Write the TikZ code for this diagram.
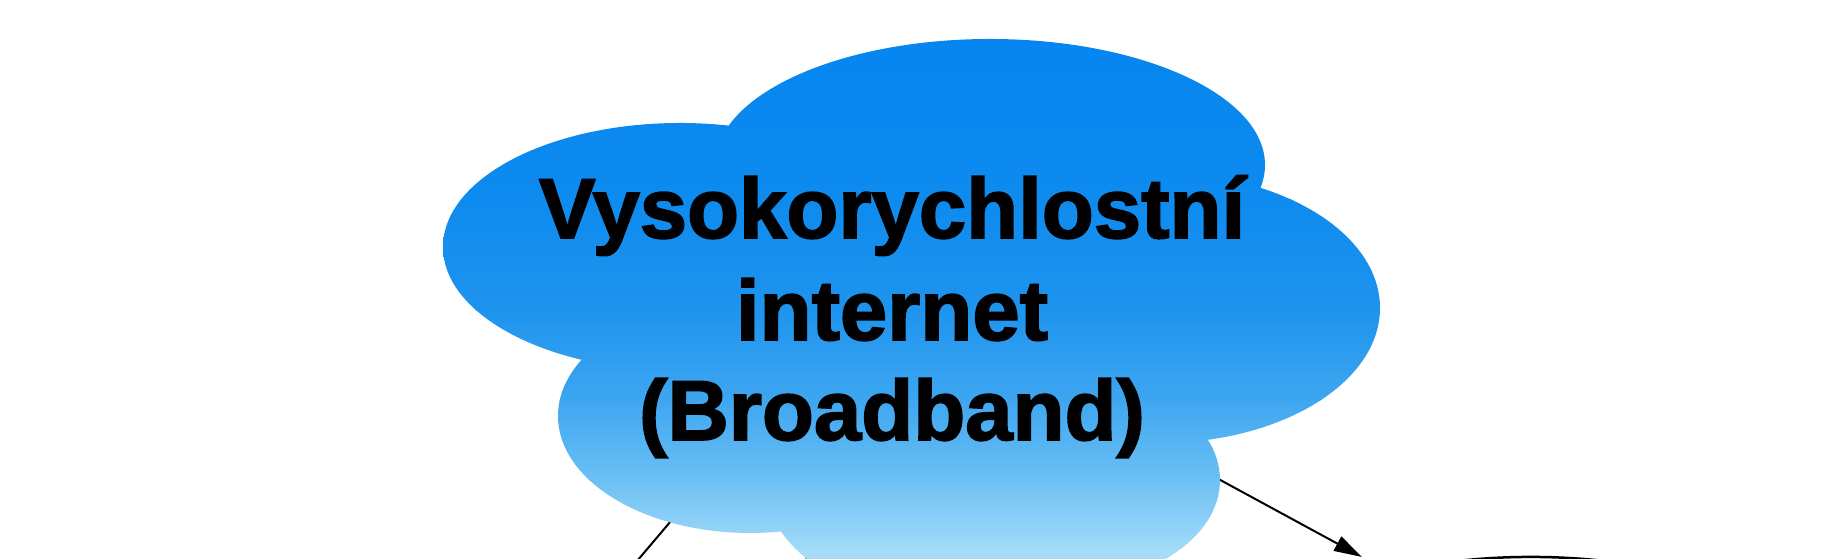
\documentclass[tikz,border=0pt]{standalone}
\usepackage{fontspec}
\setmainfont{Liberation Sans}[BoldFeatures={FakeBold=2}]
\usetikzlibrary{arrows.meta,shapes.geometric}
\definecolor{g0}{RGB}{5,133,240}
\definecolor{g1}{RGB}{14,139,239}
\definecolor{g2}{RGB}{30,148,238}
\definecolor{g3}{RGB}{62,166,240}
\definecolor{g4}{RGB}{108,192,244}
\definecolor{g5}{RGB}{162,218,248}
\definecolor{g6}{RGB}{190,232,251}
\begin{document}
\begin{tikzpicture}[x=0.01cm,y=-0.01cm,
  conn/.style={draw=black,line width=0.2mm},
  cloudtext/.style={font=\bfseries\fontsize{24.2pt}{28.7pt}\selectfont,inner sep=0pt,anchor=base},
  strip/.style={draw=none}]
\useasboundingbox (0,0) rectangle (1838,559);

% connector end points
\coordinate (cl) at (682,508);
\coordinate (clend) at (604,600);
\coordinate (cm) at (808,540);
\coordinate (cmend) at (803,610);
\coordinate (cr) at (1200,469);
\coordinate (crend) at (1362,557);
\node[draw,ellipse,line width=0.25mm,minimum width=4.8cm,minimum height=1.7cm,inner sep=0pt] (n3) at (1531,642) {};

\draw[conn] (cl) -- (clend);
\draw[conn] (cm) -- (cmend);
\draw[conn,-{Triangle[length=0.28cm,width=0.16cm]}] (cr) -- (crend);

% cloud
\begin{scope}
\clip (990,165) ellipse (275 and 126)
      (680,247) ellipse (237 and 124)
      (1160,308) ellipse (220 and 135)
      (750,416) ellipse (192 and 117)
      (905,453) ellipse (150 and 140)
      (1060,480) ellipse (160 and 105)
      (910,300) ellipse (250 and 150);
\shade[strip,top color=g0,bottom color=g1] (430,30) rectangle (1400,201);
\shade[strip,top color=g1,bottom color=g2] (430,200) rectangle (1400,311);
\shade[strip,top color=g2,bottom color=g3] (430,310) rectangle (1400,401);
\shade[strip,top color=g3,bottom color=g4] (430,400) rectangle (1400,481);
\shade[strip,top color=g4,bottom color=g5] (430,480) rectangle (1400,549);
\shade[strip,top color=g5,bottom color=g6] (430,548) rectangle (1400,600);
\end{scope}

\node[cloudtext] (t1) at (892,238) {Vysokorychlostní};
\node[cloudtext] (t2) at (892,340) {internet};
\node[cloudtext] (t3) at (892,440) {(Broadband)};
\end{tikzpicture}
\end{document}
